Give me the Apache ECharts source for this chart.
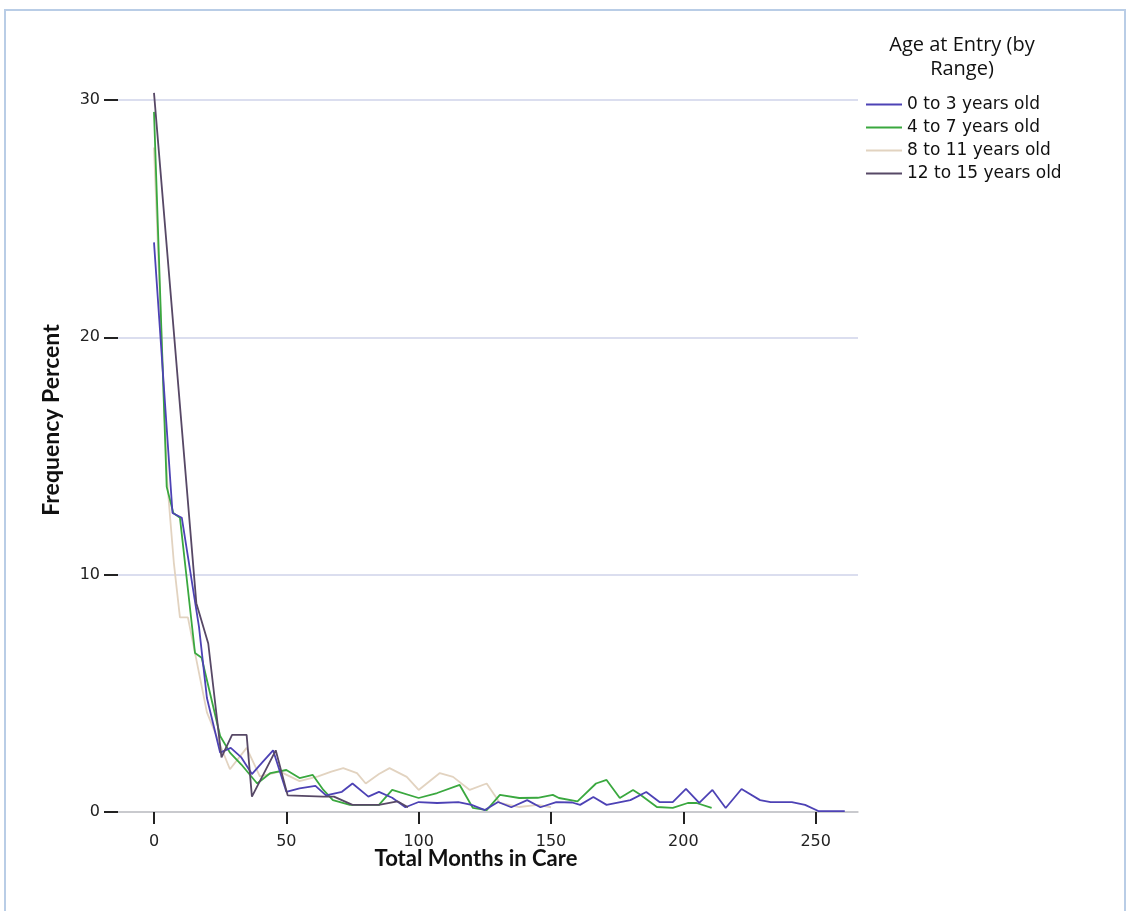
<!DOCTYPE html>
<html>
<head>
<meta charset="utf-8">
<script src="https://cdn.jsdelivr.net/npm/echarts@6/dist/echarts.min.js"></script>
<style>
html,body{margin:0;padding:0;background:#fff;}
#chart{width:1128px;height:911px;}
</style>
</head>
<body>
<div id="chart"></div>
<script>
const seriesNames = ['0 to 3 years old','4 to 7 years old','8 to 11 years old','12 to 15 years old'];
const xTickValues = [0,50,100,150,200,250];
const yTickValues = [0,10,20,30];

const age0to3 = [[0,24],[7,12.6],[10.5,12.4],[17,7.8],[20,4.8],[25,2.5],[29,2.7],[33,2.3],[37,1.6],[41,2.1],[45,2.6],[50,0.85],[55,1.0],[61,1.1],[65,0.7],[71,0.85],[75,1.2],[81,0.65],[85,0.85],[90,0.6],[95,0.2],[100,0.42],[107,0.38],[115,0.42],[120,0.3],[125,0.08],[130,0.42],[135,0.2],[141,0.5],[146,0.2],[152,0.42],[158,0.4],[161,0.3],[166,0.63],[171,0.3],[180,0.5],[186,0.84],[191,0.42],[196,0.42],[201,0.97],[206,0.38],[211,0.93],[216,0.17],[222,0.97],[229,0.5],[233,0.42],[241,0.42],[246,0.3],[251,0.04],[261,0.04]];
const age4to7 = [[0,29.5],[4.8,13.7],[7.3,12.6],[9.8,12.4],[15.5,6.7],[18,6.5],[25,3.2],[28.7,2.5],[33,2.0],[39,1.2],[44,1.64],[50,1.77],[55,1.43],[60,1.56],[64,0.93],[67.6,0.5],[74,0.3],[85,0.3],[90,0.93],[100,0.59],[107,0.8],[115.5,1.14],[120.5,0.17],[125.7,0.08],[130.7,0.72],[138,0.59],[145,0.6],[150.7,0.72],[153,0.59],[160,0.45],[167,1.2],[171,1.35],[176,0.59],[181,0.93],[183.5,0.75],[190,0.21],[196,0.17],[201.7,0.38],[205,0.38],[210.7,0.17]];
const age8to11 = [[0,28],[5,13.9],[7.5,10.5],[9.8,8.2],[12.8,8.2],[20,4.2],[28.7,1.8],[35,2.7],[40,1.5],[47.6,1.7],[55,1.3],[62,1.5],[67,1.7],[71.5,1.85],[76.7,1.64],[80,1.2],[85,1.6],[89,1.85],[95.5,1.48],[100,0.93],[108,1.64],[113,1.48],[119.3,0.93],[125.7,1.2],[130.7,0.38],[138,0.21],[145,0.3],[150,0.2]];
const age12to15 = [[0,30.3],[16,8.8],[20.5,7.1],[25.5,2.3],[29.5,3.25],[35,3.25],[37,0.65],[46,2.6],[50.5,0.7],[64,0.65],[68,0.65],[75,0.3],[85,0.3],[92,0.45],[96,0.2]];

const seriesData = [age0to3, age4to7, age8to11, age12to15];
const colors = ['#4d42b5','#3aa83f','#e2d3c0','#574866'];

const chart = echarts.init(document.getElementById('chart'), null, {renderer:'canvas'});
const option = {
  backgroundColor:'#fff',
  animation:false,
  grid:{left:118, right:270, top:100, bottom:99, containLabel:false},
  xAxis:{
    type:'value', min:-13.6, max:266,
    axisLine:{show:true, onZero:false, lineStyle:{color:'#c4c4c4', width:1.5}},
    axisTick:{show:true, customValues:xTickValues, length:12, lineStyle:{color:'#222', width:2}},
    axisLabel:{customValues:xTickValues, margin:22, fontFamily:'DejaVu Sans', fontSize:16, color:'#222'},
    splitLine:{show:false}
  },
  yAxis:{
    type:'value', min:0, max:30, interval:10,
    axisLine:{show:false, onZero:false},
    axisTick:{show:true, length:14, lineStyle:{color:'#222', width:2}},
    axisLabel:{margin:18, fontFamily:'DejaVu Sans', fontSize:16, color:'#222'},
    splitLine:{show:true, lineStyle:{color:'#cfd3ea', width:1.5}}
  },
  legend:{
    orient:'vertical', left:860, top:91,
    itemWidth:36, itemHeight:14, itemGap:6,
    itemStyle:{opacity:0},
    textStyle:{fontFamily:'DejaVu Sans', fontSize:17, color:'#111'},
    data:seriesNames
  },
  graphic:[
    {type:'rect', shape:{x:5, y:10, width:1120, height:920}, style:{fill:'none', stroke:'#b9cde6', lineWidth:2}, silent:true},
    {type:'text', style:{text:'Age at Entry (by', x:962, y:45, textAlign:'center', textVerticalAlign:'middle', font:'20px "Open Sans"', fill:'#111'}},
    {type:'text', style:{text:'Range)', x:962, y:69, textAlign:'center', textVerticalAlign:'middle', font:'20px "Open Sans"', fill:'#111'}},
    {type:'text', style:{text:'Frequency Percent', x:0, y:0, textAlign:'center', textVerticalAlign:'middle', font:'bold 23px Lato', fill:'#111'}, x:52, y:420, rotation:Math.PI/2},
    {type:'text', style:{text:'Total Months in Care', x:476, y:859, textAlign:'center', textVerticalAlign:'middle', font:'bold 22px Lato', fill:'#111'}}
  ],
  series: seriesNames.map((n,i)=>({
    name:n, type:'line', data:seriesData[i], symbol:'none', clip:false,
    z: [4,3,2,5][i],
    lineStyle:{color:colors[i], width:1.8},
    itemStyle:{color:colors[i]}
  }))
};
chart.setOption(option);
</script>
</body>
</html>
